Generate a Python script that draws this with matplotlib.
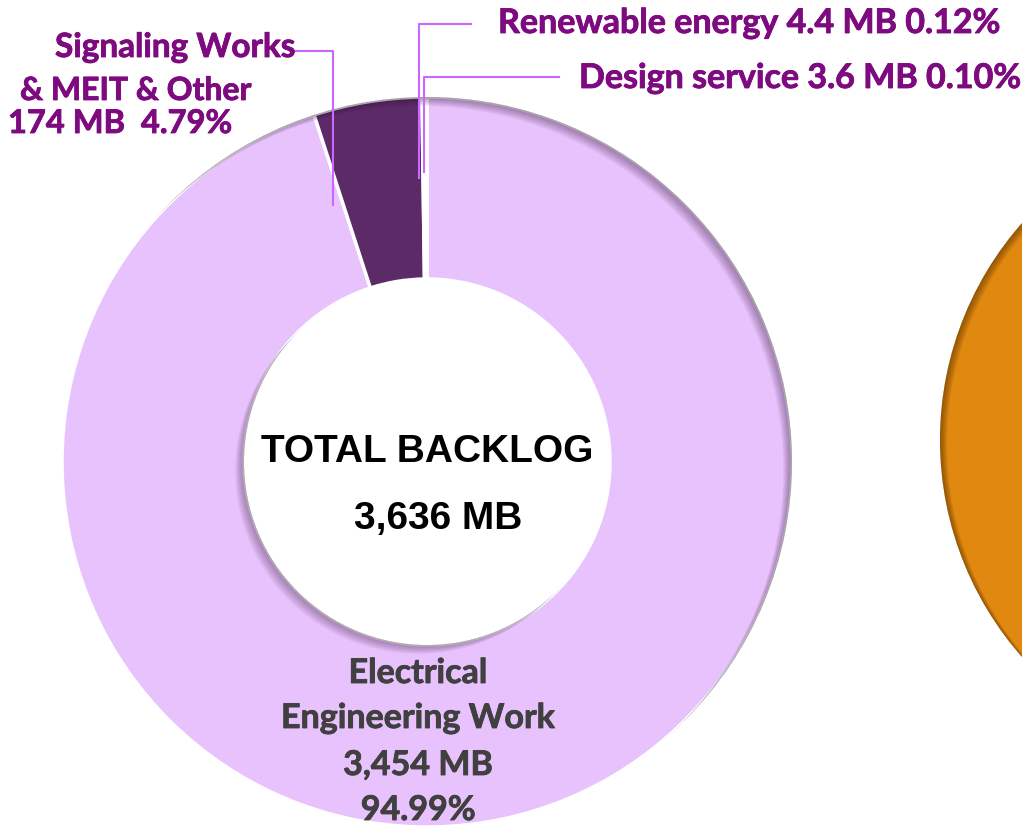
import matplotlib.pyplot as plt
import matplotlib.patheffects as pe
from matplotlib.patches import Wedge, Circle

# backlog by segment (MB)
segments = ["Electrical Engineering Work", "Signaling Works & MEIT & Other",
            "Renewable energy", "Design service"]
values = [3454, 174, 4.4, 3.6]
shares = [94.99, 4.79, 0.12, 0.10]
total = 3636
colors = ["#E8C2FC", "#5B2A67", "#FFFFFF", "#FFFFFF"]

W, H = 1022, 832
fig = plt.figure(figsize=(W / 100, H / 100), dpi=100)
ax = fig.add_axes([0, 0, 1, 1])

cx, cy, R, r = 427, 462, 365, 183
purple = "#7E0A80"
lead = "#CC66FF"
calibri = "Lato"

# y axis runs downward, so startangle 270 is the top and counterclock goes clockwise on screen
wedges, _ = ax.pie(values, colors=colors, startangle=270, counterclock=True,
                   center=(cx, cy), radius=R,
                   wedgeprops=dict(width=R - r, edgecolor="white", linewidth=2.5))
ax.set_xlim(0, W)
ax.set_ylim(H, 0)
ax.set_aspect("equal")
ax.axis("off")

# soft inner shadow on the ring
ring = Wedge((cx, cy), R, 0, 360, width=R - r, transform=ax.transData)
for d in range(1, 13):
    a = Wedge((cx - d * 0.75, cy + d * 0.75), R + 3000, 0, 360, width=3000, color="#2a0f30",
              alpha=0.04, lw=0, zorder=3)
    b = Circle((cx - d * 0.75, cy + d * 0.75), r, color="#2a0f30", alpha=0.035, lw=0, zorder=3)
    for p in (a, b):
        ax.add_patch(p)
        p.set_clip_path(ring)

# orange disc on the right edge
ox, oy, orad = 1268, 440, 328
ax.add_patch(Circle((ox, oy), orad, color="#E0880F", lw=0, zorder=2))
disc = Circle((ox, oy), orad, transform=ax.transData)
for d in range(1, 8):
    s = Wedge((ox + d, oy + d * 0.6), orad + 3000, 0, 360, width=3000, color="#3a2000",
              alpha=0.08, lw=0, zorder=3)
    ax.add_patch(s)
    s.set_clip_path(disc)

# leader lines
ax.plot([333, 333, 290], [205, 51, 51], color=lead, lw=1.5, zorder=4)
ax.plot([419, 419, 471], [178, 24, 24], color=lead, lw=1.5, zorder=4)
ax.plot([424, 424, 559], [172, 77, 77], color=lead, lw=1.5, zorder=4)

thick = [pe.withStroke(linewidth=0.6, foreground=purple)]
lab = dict(color=purple, fontweight="bold", family=calibri, va="baseline", zorder=5,
           path_effects=thick)
ax.text(498, 33, f"Renewable energy {values[2]} MB {shares[2]:.2f}%", fontsize=24.5, **lab)
ax.text(579, 88, f"Design service {values[3]} MB {shares[3]:.2f}%", fontsize=24.5, **lab)
ax.text(55, 57, "Signaling Works", fontsize=24, **lab)
ax.text(20, 100, "& MEIT & Other", fontsize=23, **lab)
ax.text(8, 133, f"{values[1]} MB  {shares[1]:.2f}%", fontsize=23.5, **lab)

ctr = dict(color="black", fontweight="bold", family="Liberation Sans", ha="center",
           va="baseline", fontsize=28, zorder=5)
ax.text(427, 462, "TOTAL BACKLOG", **ctr)
ax.text(438, 529, f"{total:,} MB", **ctr)

ee = dict(color="#404040", fontweight="bold", family=calibri, ha="center",
          va="baseline", fontsize=24.5, zorder=5,
          path_effects=[pe.withStroke(linewidth=0.6, foreground="#404040")])
ax.text(418, 683, "Electrical", **ee)
ax.text(418, 728, "Engineering Work", **ee)
ax.text(418, 775, f"{values[0]:,} MB", **ee)
ax.text(418, 820, f"{shares[0]:.2f}%", **ee)

fig.savefig("out.png", dpi=100)
